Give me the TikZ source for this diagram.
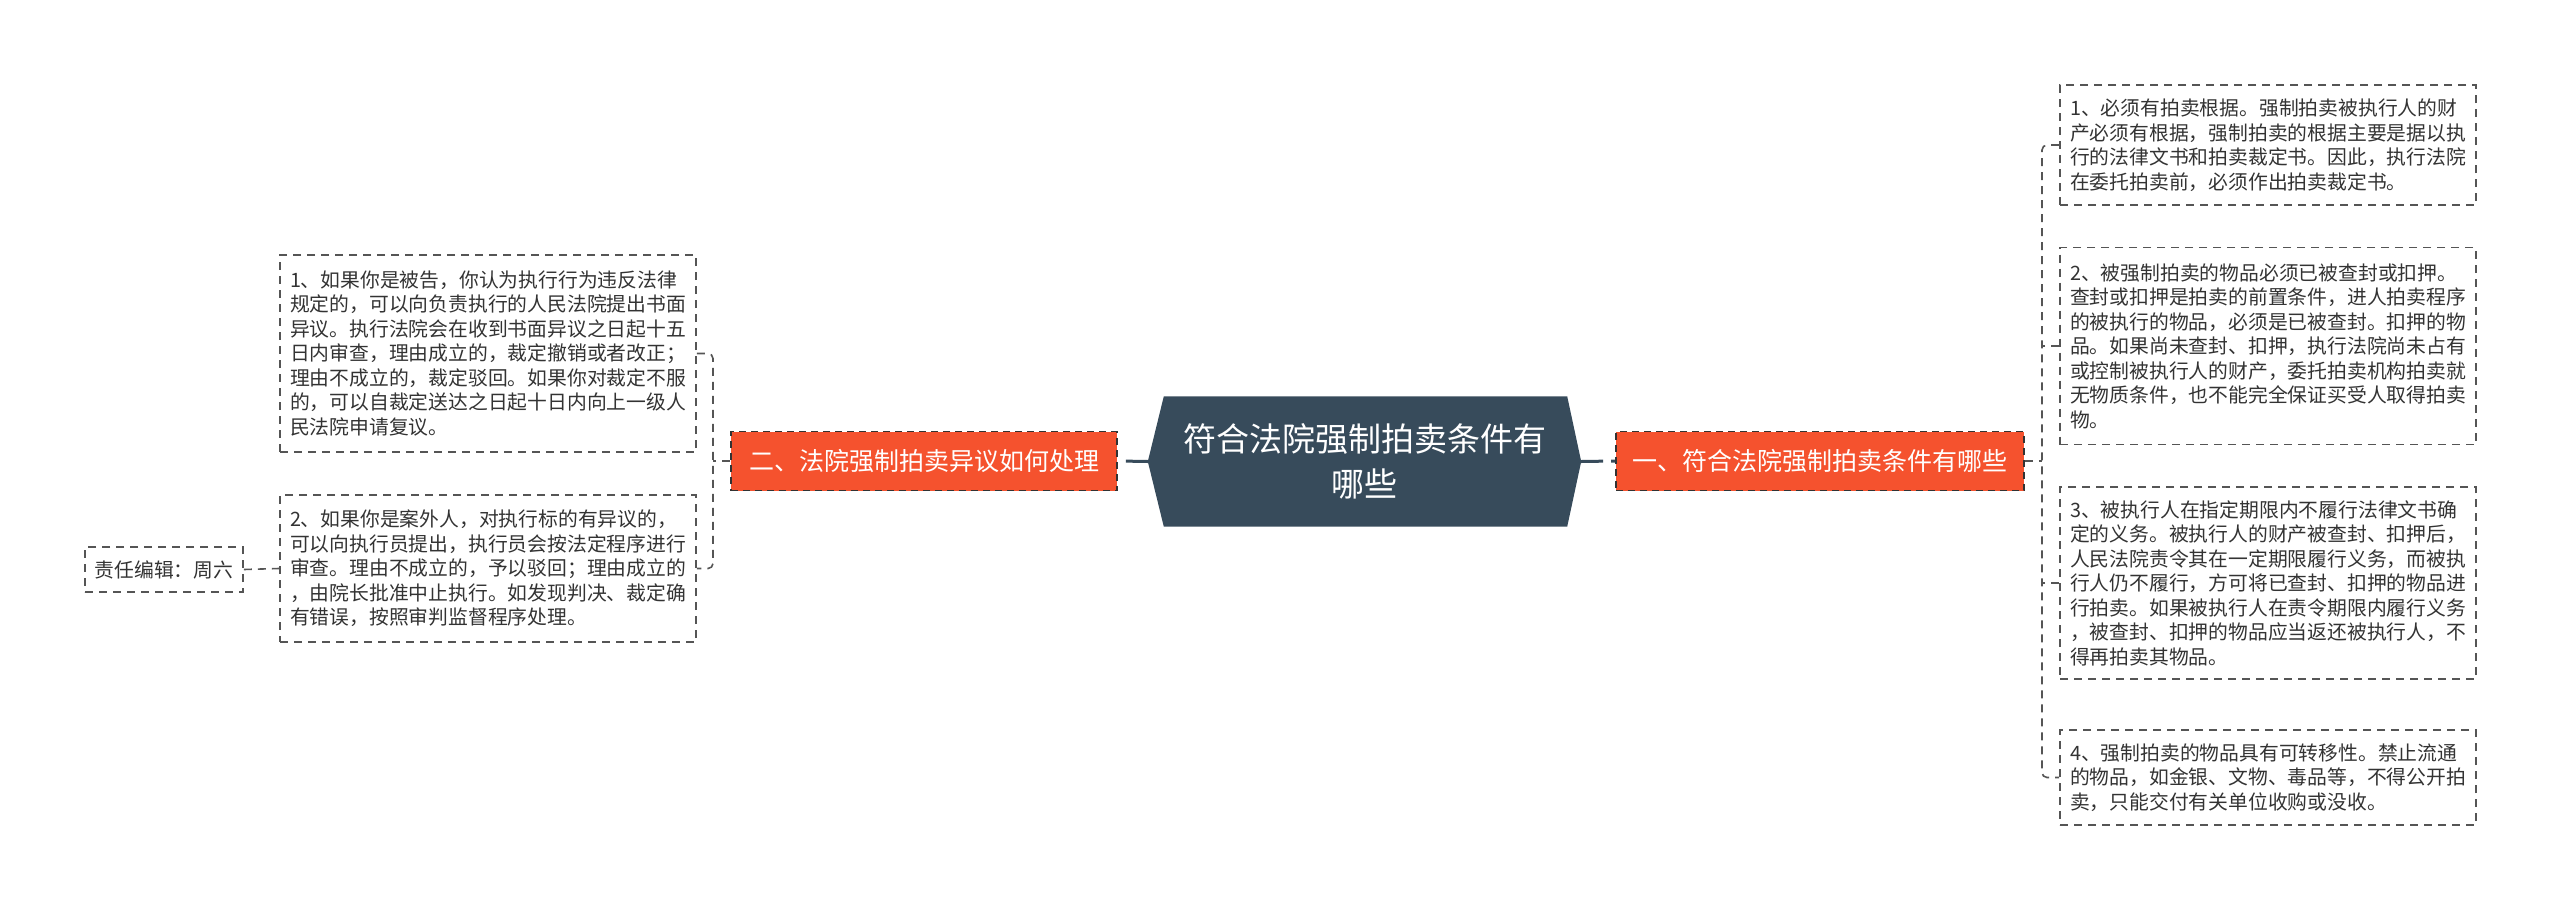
\documentclass[tikz,border=0pt]{standalone}
\usepackage{fontspec}
\setmainfont{Noto Sans CJK SC}
\usetikzlibrary{backgrounds}
\definecolor{hexfill}{HTML}{374B5B}
\definecolor{orangefill}{HTML}{F5522E}
\definecolor{linegray}{HTML}{555555}
\definecolor{textgray}{HTML}{333333}
\tikzset{
  rootnode/.style={inner sep=0pt, minimum width=433, minimum height=130, align=center, text=white, font=\fontsize{33}{45}\selectfont},
  topicbox/.style={fill=orangefill, draw=textgray, line width=1.8, dash pattern=on 7 off 5, minimum height=59, inner sep=0pt, text=white, font=\fontsize{25}{30}\selectfont},
  leafbox/.style={draw=linegray, line width=1.8, dash pattern=on 8 off 6, minimum width=416, inner sep=0pt, align=left, text=textgray, font=\fontsize{19.8}{24.5}\selectfont},
  conn/.style={draw=linegray, line width=1.6, dash pattern=on 8 off 6},
  mainconn/.style={draw=hexfill, line width=3, dash pattern=on 22 off 8},
}
\begin{document}
\begin{tikzpicture}[x=1pt,y=-1pt]
\useasboundingbox (0,0) rectangle (2560,910);

% root
\node[rootnode] (root) at (1364.5,461.5) {符合法院强制拍卖条件有\\哪些};
\begin{scope}[on background layer]
\fill[hexfill] (root.west) -- ([xshift=16]root.north west) -- ([xshift=-14]root.north east) -- (root.east) -- ([xshift=-14]root.south east) -- ([xshift=16]root.south west) -- cycle;
\end{scope}

% topics
\node[topicbox, minimum width=408] (R) at (1820,461) {一、符合法院强制拍卖条件有哪些};
\node[topicbox, minimum width=386] (L) at (924,461) {二、法院强制拍卖异议如何处理};

% right leaves
\node[leafbox, minimum height=120] (r1) at (2268,145) {1、必须有拍卖根据。强制拍卖被执行人的财\\产必须有根据，强制拍卖的根据主要是据以执\\行的法律文书和拍卖裁定书。因此，执行法院\\在委托拍卖前，必须作出拍卖裁定书。};
\node[leafbox, minimum height=197] (r2) at (2268,346) {2、被强制拍卖的物品必须已被查封或扣押。\\查封或扣押是拍卖的前置条件，进人拍卖程序\\的被执行的物品，必须是已被查封。扣押的物\\品。如果尚未查封、扣押，执行法院尚未占有\\或控制被执行人的财产，委托拍卖机构拍卖就\\无物质条件，也不能完全保证买受人取得拍卖\\物。};
\node[leafbox, minimum height=192] (r3) at (2268,583) {3、被执行人在指定期限内不履行法律文书确\\定的义务。被执行人的财产被查封、扣押后，\\人民法院责令其在一定期限履行义务，而被执\\行人仍不履行，方可将已查封、扣押的物品进\\行拍卖。如果被执行人在责令期限内履行义务\\，被查封、扣押的物品应当返还被执行人，不\\得再拍卖其物品。};
\node[leafbox, minimum height=95] (r4) at (2268,777.5) {4、强制拍卖的物品具有可转移性。禁止流通\\的物品，如金银、文物、毒品等，不得公开拍\\卖，只能交付有关单位收购或没收。};

% left leaves
\node[leafbox, minimum height=197] (l1) at (488,353.5) {1、如果你是被告，你认为执行行为违反法律\\规定的，可以向负责执行的人民法院提出书面\\异议。执行法院会在收到书面异议之日起十五\\日内审查，理由成立的，裁定撤销或者改正；\\理由不成立的，裁定驳回。如果你对裁定不服\\的，可以自裁定送达之日起十日内向上一级人\\民法院申请复议。};
\node[leafbox, minimum height=147] (l2) at (488,568.5) {2、如果你是案外人，对执行标的有异议的，\\可以向执行员提出，执行员会按法定程序进行\\审查。理由不成立的，予以驳回；理由成立的\\，由院长批准中止执行。如发现判决、裁定确\\有错误，按照审判监督程序处理。};

% editor
\node[leafbox, minimum width=158, minimum height=45, align=center] (ed) at (164,569.5) {责任编辑：周六};

% main connectors
\draw[mainconn] (root.east) -- (R.west);
\draw[mainconn] (root.west) -- (L.east);

% right bracket
\coordinate (rb) at (2042,461);
\draw[conn, rounded corners=5] (r1.west) -- (r1.west -| rb) -- (r4.west -| rb) -- (r4.west);
\draw[conn] (r2.west) -- (r2.west -| rb);
\draw[conn] (r3.west) -- (r3.west -| rb);
\draw[conn] (R.east) -- (rb);

% left bracket
\coordinate (lb) at (713,461);
\draw[conn, rounded corners=5] (l1.east) -- (l1.east -| lb) -- (l2.east -| lb) -- (l2.east);
\draw[conn] (L.west) -- (lb);

% editor connector
\draw[conn] (ed.east) -- (l2.west);
\end{tikzpicture}
\end{document}
